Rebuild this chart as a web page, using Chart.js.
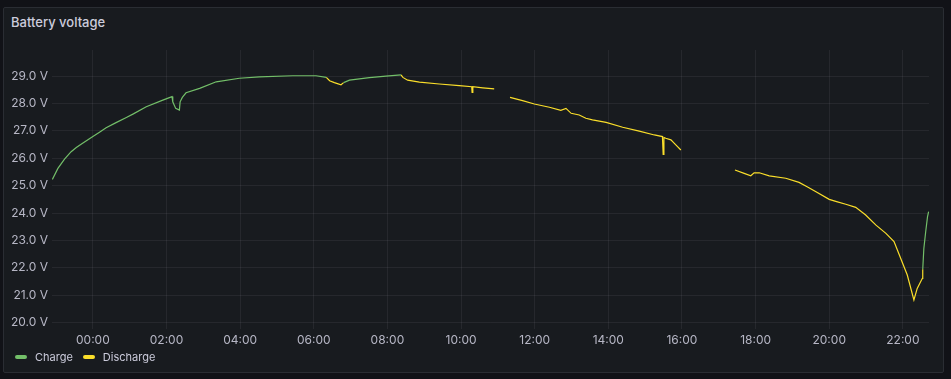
<!DOCTYPE html>
<html>
<head>
<meta charset="utf-8">
<script src="https://cdn.jsdelivr.net/npm/chart.js@4/dist/chart.umd.min.js"></script>
<style>
  html, body { margin: 0; padding: 0; background: #111217; width: 951px; height: 379px; overflow: hidden; font-family: Inter, "Open Sans", sans-serif; }
  #panel { position: absolute; left: 3px; top: 7px; width: 939px; height: 364px; background: #181b1f; border: 1px solid #2a2d33; border-radius: 2px; }
  #title { position: absolute; left: 11px; top: 14px; font-size: 13px; font-weight: 500; color: #ccccdc; }
  #wrap { position: absolute; left: 0; top: 0; width: 951px; height: 379px; }
  #legend { position: absolute; left: 15px; top: 350px; font-size: 11px; color: #ccccdc; display: flex; align-items: center; }
  .item { display: flex; align-items: center; margin-right: 10px; }
  .sw { width: 12px; height: 4px; border-radius: 2px; margin-right: 8px; }
</style>
</head>
<body>
<div id="panel"></div>
<div id="title">Battery voltage</div>
<div id="wrap"><canvas id="c" width="951" height="379"></canvas></div>
<div id="legend"></div>
<script>
// Time in hours relative to midnight (negative = previous day)
const chargeTimes = [-1.10, -0.95, -0.77, -0.59, -0.45, -0.31, 0.00, 0.18, 0.36, 0.63, 0.91, 1.10, 1.45, 1.90, 2.15, 2.17, 2.25, 2.35, 2.37, 2.43, 2.53, 2.90, 3.35, 3.98, 4.52, 5.43, 6.06, 6.34, null, 6.81, 6.97, 7.51, 7.96, 8.37, null, 22.54, 22.57, 22.62, 22.67, 22.70];
const chargeVolts = [25.23, 25.63, 25.97, 26.24, 26.39, 26.52, 26.79, 26.95, 27.11, 27.30, 27.49, 27.62, 27.88, 28.12, 28.25, 28.06, 27.82, 27.76, 28.06, 28.22, 28.39, 28.55, 28.79, 28.92, 28.97, 29.01, 29.01, 28.95, null, 28.76, 28.85, 28.94, 29.00, 29.04, null, 21.95, 22.71, 23.32, 23.87, 24.05];

const dischargeTimes = [6.34, 6.43, 6.56, 6.74, 6.81, null, 8.37, 8.42, 8.55, 8.87, 9.41, 9.95, 10.29, 10.30, 10.32, 10.59, 10.90, null,
  11.33, 11.67, 11.99, 12.40, 12.71, 12.85, 12.99, 13.21, 13.39, 13.57, 13.94, 14.39, 14.84, 15.25, 15.47, 15.49, 15.51, 15.56, 15.70, 15.84, 15.97, null,
  17.44, 17.69, 17.87, 17.96, 18.10, 18.37, 18.82, 19.18, 19.40, 19.64, 20.00, 20.20, 20.45, 20.72, 20.99, 21.27, 21.54, 21.76, 21.94, 22.12, 22.30, 22.39, 22.53, 22.54];
const dischargeVolts = [28.95, 28.83, 28.76, 28.68, 28.76, null, 29.04, 28.95, 28.85, 28.78, 28.71, 28.65, 28.61, 28.40, 28.61, 28.57, 28.53, null,
  28.22, 28.10, 27.98, 27.86, 27.75, 27.82, 27.64, 27.58, 27.46, 27.40, 27.31, 27.13, 26.99, 26.85, 26.79, 26.14, 26.76, 26.73, 26.67, 26.48, 26.30, null,
  25.57, 25.45, 25.36, 25.47, 25.47, 25.36, 25.27, 25.12, 24.96, 24.78, 24.50, 24.42, 24.32, 24.21, 23.93, 23.56, 23.26, 22.96, 22.35, 21.74, 20.83, 21.25, 21.62, 21.95];

const seriesNames = ["Charge", "Discharge"];
const seriesColors = ["#73bf69", "#fade2a"];
const yTickValues = [20, 21, 22, 23, 24, 25, 26, 27, 28, 29];
const xTickValues = [0, 2, 4, 6, 8, 10, 12, 14, 16, 18, 20, 22];

function pts(ts, vs) {
  return ts.map((t, i) => ({ x: t === null ? NaN : t, y: vs[i] }));
}
function fmtHour(h) {
  let hh = ((Math.round(h) % 24) + 24) % 24;
  return String(hh).padStart(2, "0") + ":00";
}

const tickColor = "rgba(204,204,220,0.88)";
const gridColor = "rgba(204,204,220,0.08)";

new Chart(document.getElementById("c"), {
  type: "line",
  data: {
    datasets: [
      { label: seriesNames[0], data: pts(chargeTimes, chargeVolts), borderColor: seriesColors[0], borderWidth: 1.2, pointRadius: 0, spanGaps: false, tension: 0 },
      { label: seriesNames[1], data: pts(dischargeTimes, dischargeVolts), borderColor: seriesColors[1], borderWidth: 1.2, pointRadius: 0, spanGaps: false, tension: 0 }
    ]
  },
  options: {
    responsive: false,
    animation: false,
    layout: { padding: { left: 0, right: 22, top: 50, bottom: 34 } },
    plugins: { legend: { display: false }, tooltip: { enabled: false } },
    scales: {
      x: {
        type: "linear",
        min: -1.11, max: 22.71,
        afterFit: s => { s.height = 16; },
        afterBuildTicks: s => { s.ticks = xTickValues.map(v => ({ value: v })); },
        ticks: { color: tickColor, font: { family: "Inter", size: 12 }, padding: 4, maxRotation: 0, autoSkip: false, callback: v => fmtHour(v) },
        grid: { color: gridColor, drawTicks: false, lineWidth: 1 },
        border: { display: false }
      },
      y: {
        type: "linear",
        min: 19.77, max: 29.95,
        afterFit: s => { s.width = 52; },
        afterBuildTicks: s => { s.ticks = yTickValues.map(v => ({ value: v })); },
        ticks: { color: tickColor, font: { family: "Inter", size: 12 }, padding: 4, callback: v => v.toFixed(1) + " V" },
        grid: { color: gridColor, drawTicks: false, lineWidth: 1 },
        border: { display: false }
      }
    }
  }
});

const lg = document.getElementById("legend");
seriesNames.forEach((n, i) => {
  const it = document.createElement("div"); it.className = "item";
  const sw = document.createElement("div"); sw.className = "sw"; sw.style.background = seriesColors[i];
  const tx = document.createElement("span"); tx.textContent = n;
  it.appendChild(sw); it.appendChild(tx); lg.appendChild(it);
});
</script>
</body>
</html>
